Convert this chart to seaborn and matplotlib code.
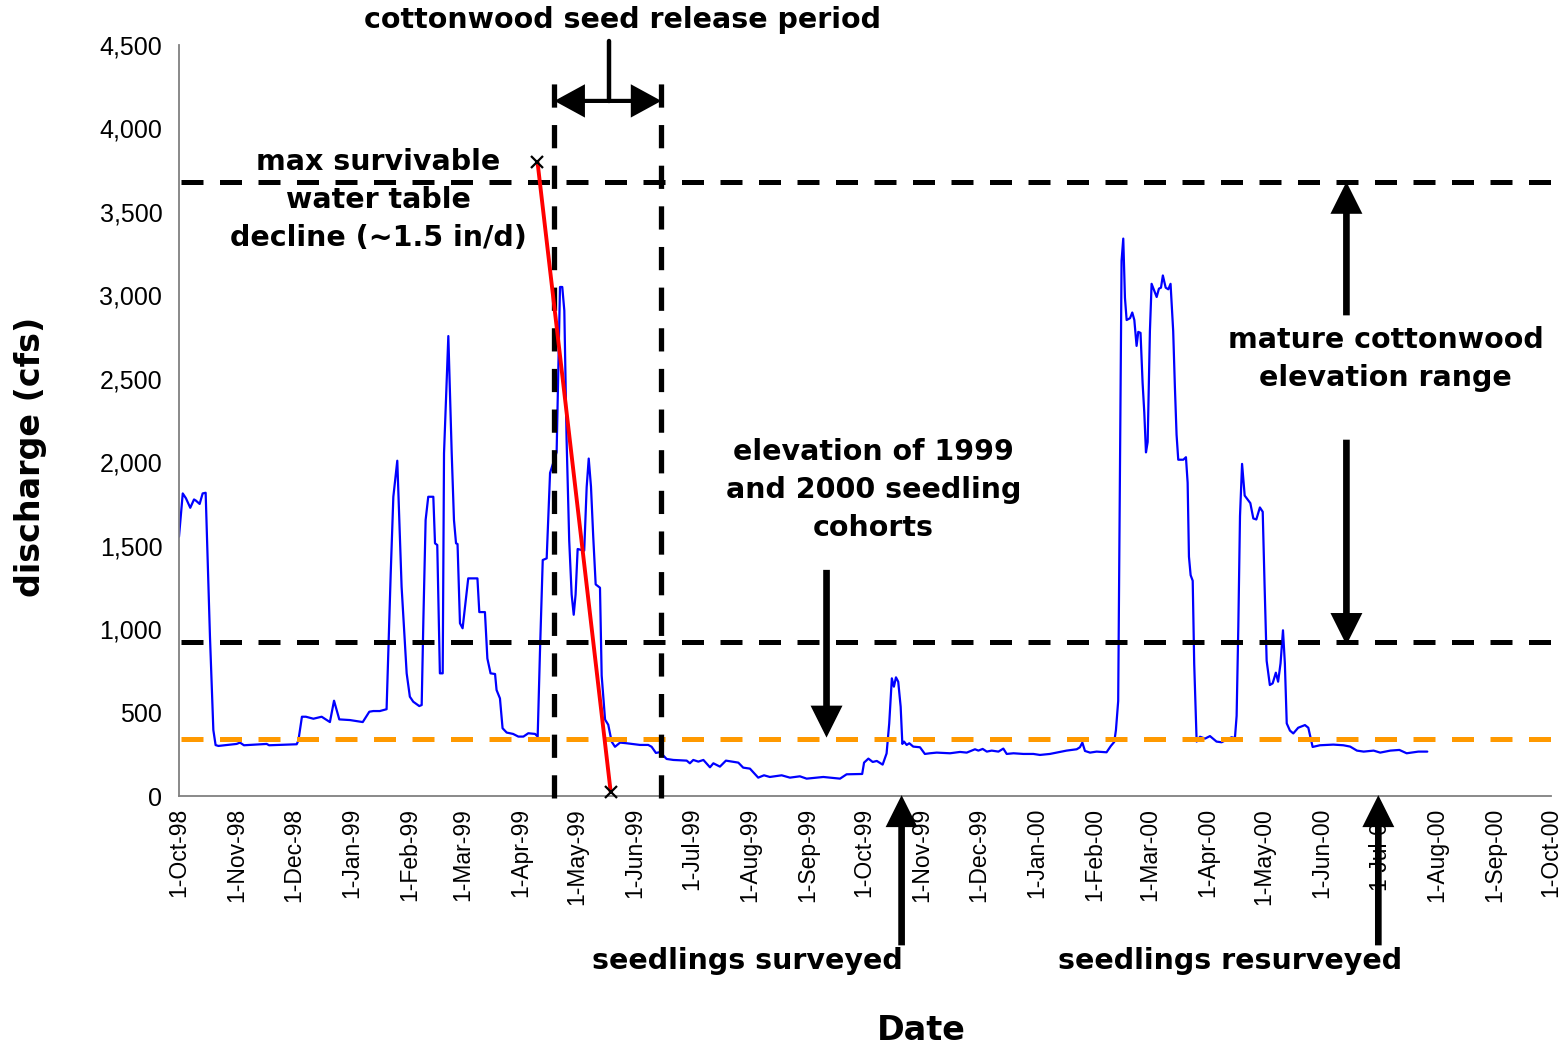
import pandas as pd
import matplotlib
matplotlib.use("Agg")
import matplotlib.pyplot as plt
import matplotlib.dates as mdates
import matplotlib.ticker as mticker
import seaborn as sns

start = pd.Timestamp("1998-10-01")

# daily discharge (cfs); days counted from 1-Oct-98
fall98_day = [0, 2, 3.7, 6, 8, 9, 11, 12.6, 14.2, 15.3, 16.5, 18.3, 19.5, 21, 30.7, 32.5, 34.6,
              46.7, 48, 62.7, 63.6, 65.5, 67.6, 71.6, 76, 80.4, 82.6, 85.4, 91.1, 97.9, 101.4,
              103.5, 107, 110.6]
fall98_cfs = [1554, 1813, 1784, 1727, 1777, 1770, 1750, 1813, 1817, 1394, 954, 395, 305, 300, 312,
              320, 304, 312, 304, 310, 332, 475, 475, 463, 475, 443, 571, 459, 455, 443, 505, 509,
              509, 520]

spring99_day = [111.5, 112.8, 114.2, 116.3, 118.6, 121.3, 123, 124.8, 128, 129.3, 130.2, 131.4,
                132.8, 135.5, 136.4, 137.6, 139, 140.5, 141.2, 143.5, 145.3, 146.5, 147.6, 148.4,
                149.7, 151.1, 154.1, 159, 160, 163, 164.3, 166, 168.4, 169.2, 171, 172.4, 174.6,
                178, 180.8, 183.5, 186.1, 189.7, 191.1]
spring99_cfs = [855, 1334, 1793, 2009, 1254, 735, 595, 565, 539, 545, 1054, 1654, 1793, 1793, 1514,
                1504, 735, 735, 2053, 2756, 2053, 1654, 1514, 1510, 1035, 1005, 1304, 1304, 1102,
                1102, 824, 735, 731, 635, 585, 406, 380, 372, 356, 356, 376, 372, 356]

summer99_day = [192.3, 193.8, 195.9, 197.7, 199.5, 201.2, 202.1, 203, 204.2, 205.3, 206.5, 207.9,
                209.2, 210.3, 211.3, 212.4, 215.9, 217.2, 218.3, 219.5, 220.7, 222, 224.3, 225.2,
                227, 228.7, 230.5, 232.3, 235, 238.5, 245.6, 250, 251.8, 254.1, 256.3, 259.8,
                263.4, 270.5, 272.2, 274, 276.7, 279.4, 282.9, 284.7, 288.2, 291.4, 298, 300.6,
                304.2, 308.6, 311.7, 314.8, 321.1, 325.5, 330.8, 334.4, 343.3, 352.2, 355.7, 364]
summer99_cfs = [855, 1414, 1424, 1936, 2000, 2060, 2544, 3050, 3050, 2908, 2139, 1531, 1207, 1086,
                1207, 1480, 1470, 1850, 2022, 1854, 1554, 1268, 1248, 721, 458, 427, 326, 295, 320,
                316, 306, 306, 295, 258, 263, 222, 216, 212, 196, 216, 206, 216, 172, 196, 176, 212,
                200, 170, 164, 110, 124, 114, 124, 110, 118, 104, 114, 104, 130, 132]

winter00_day = [365, 367.3, 369.6, 371.8, 374.9, 377, 378.4, 379.8, 380.9, 382, 383.2, 384.5,
                385.4, 386.3, 387.7, 389.1, 391.2, 394.8, 397.4, 400.1, 403.7, 410.8, 416.1,
                419.7, 424.1, 425.9, 428.2, 430.4, 433, 436.6, 439.2, 441, 444.6, 449.9, 455.2,
                458.7, 464, 467.6, 472.9, 478.3, 480, 481.3, 482.7, 485.4, 488.9, 494.2, 496.5,
                498.3, 499.2, 500.4]
winter00_cfs = [200, 224, 204, 210, 188, 255, 434, 705, 655, 711, 685, 535, 312, 326, 306, 316,
                296, 292, 252, 256, 260, 256, 264, 260, 280, 272, 282, 266, 272, 266, 284, 252, 256,
                252, 252, 246, 252, 260, 272, 280, 292, 320, 270, 260, 266, 262, 300, 324, 395, 569]

spring00_day = [501.3, 502.2, 503.1, 504, 504.9, 506.7, 507.9, 509, 510.2, 511.1, 512.3, 513.4,
                514.3, 515.2, 516.1, 517.3, 518.2, 519.4, 520.9, 522.1, 523.2, 524.2, 525.7,
                527.1, 528.3, 529.7, 530.6, 531.5, 532.4, 535.1, 536.5, 537.4, 538.1, 539, 540.1,
                540.9, 542.2, 544, 546.7, 549.3, 552.8, 555.5, 558.2, 560.8, 562.6, 563.5, 564.4,
                565.3, 566.4, 567.8, 570.8, 572.4, 574, 575.9, 577.4, 578.4, 579.5, 581.2, 582.7,
                584.4, 585.6, 586.9, 588.2, 589.2, 590.2, 591.9, 593.7, 596.3, 599.9, 601.7, 604,
                607.9, 615, 620.4, 624, 627.6, 631.2, 636.5, 640, 645.4, 650.2, 654.1, 660.3, 665.1]
spring00_cfs = [1899, 3207, 3340, 2985, 2852, 2863, 2897, 2852, 2697, 2781, 2775, 2476, 2298, 2059,
                2121, 2786, 3069, 3034, 2990, 3040, 3046, 3119, 3046, 3036, 3069, 2786, 2454, 2165,
                2015, 2015, 2030, 1877, 1434, 1323, 1290, 791, 326, 355, 344, 359, 326, 322, 337,
                352, 347, 480, 1013, 1678, 1990, 1800, 1755, 1663, 1657, 1729, 1703, 1260, 810, 665,
                675, 739, 685, 795, 993, 795, 435, 392, 375, 409, 425, 409, 294, 304, 308, 304, 296,
                272, 266, 272, 260, 272, 276, 256, 266, 266]

# reference levels
mature_top = 3680
mature_bottom = 920
seedling_level = 340
seed_release = ["1999-04-19", "1999-06-15"]
decline_dates = ["1999-04-10", "1999-05-19"]
decline_cfs = [3800, 25]

month_ticks = pd.date_range("1998-10-01", "2000-10-01", freq="MS")
y_ticks = list(range(0, 4501, 500))

days = fall98_day + spring99_day + summer99_day + winter00_day + spring00_day
cfs = fall98_cfs + spring99_cfs + summer99_cfs + winter00_cfs + spring00_cfs
df = pd.DataFrame({"date": start + pd.to_timedelta(days, unit="D"), "cfs": cfs})


def d(s):
    return mdates.date2num(pd.Timestamp(s))


sns.set_style("white")
plt.rcParams["font.family"] = ["DejaVu Sans"]
plt.rcParams["text.color"] = "black"
plt.rcParams["xtick.color"] = "black"
plt.rcParams["ytick.color"] = "black"

fig = plt.figure(figsize=(15.64, 10.53), dpi=100)
ax = fig.add_axes([179 / 1564, 1 - 796 / 1053, 1372 / 1564, 751 / 1053])

sns.lineplot(data=df, x="date", y="cfs", color="#0000ff", lw=1.6, ax=ax)

dash = (0, (4.4, 3.3))
for lvl, col in [(mature_top, "black"), (mature_bottom, "black"), (seedling_level, "#ff9900")]:
    ax.plot([d("1998-10-02"), d("2000-10-08")], [lvl, lvl], ls=dash, lw=3.6,
            color=col, clip_on=False, zorder=3)
for s in seed_release:
    ax.plot([d(s), d(s)], [-10, 4280], ls=dash, lw=3.8, color="black",
            clip_on=False, zorder=3)

ax.plot([d(x) for x in decline_dates], decline_cfs, color="red", lw=2.8, zorder=4)
ax.plot([d(x) for x in decline_dates], decline_cfs, ls="none", marker="x",
        color="black", ms=9, mew=1.6, zorder=5, clip_on=False)

ax.set_xlim(d("1998-10-01"), d("2000-10-01"))
ax.set_ylim(0, 4500)
ax.set_xticks([d(t) for t in month_ticks])
ax.set_xticklabels([t.strftime("%d-%b-%y").lstrip("0") for t in month_ticks],
                   rotation=90, fontsize=16.5, family="Liberation Sans")
ax.set_yticks(y_ticks)
ax.yaxis.set_major_formatter(mticker.StrMethodFormatter("{x:,.0f}"))
for lab in ax.get_yticklabels():
    lab.set_family("Liberation Sans")
    lab.set_fontsize(18)
ax.set_xlabel("")
ax.set_ylabel("")

for side in ["top", "right"]:
    ax.spines[side].set_visible(False)
for side in ["left", "bottom"]:
    ax.spines[side].set_color("#808080")
    ax.spines[side].set_linewidth(1.3)
ax.tick_params(axis="x", direction="inout", length=11, width=1.1, color="#555555",
               labelcolor="black", pad=3)
ax.tick_params(axis="y", direction="out", length=6, width=1.1, color="#555555",
               labelcolor="black", pad=6)


def arrow(x0, y0, x1, y1, w=4.8, hw=23, hl=23):
    ax.annotate("", xy=(x1, y1), xytext=(x0, y0), annotation_clip=False,
                arrowprops=dict(facecolor="black", edgecolor="black", lw=0,
                                width=w, headwidth=hw, headlength=hl, shrink=0))


mid = d("1999-05-18")
ax.plot([mid, mid], [4525, 4165], color="black", lw=3.2, clip_on=False, zorder=5)
arrow(mid, 4165, d(seed_release[0]), 4165, w=3, hw=24, hl=22)
arrow(mid, 4165, d(seed_release[1]), 4165, w=3, hw=24, hl=22)

arrow(d("2000-06-14"), 2880, d("2000-06-14"), mature_top)
arrow(d("2000-06-14"), 2135, d("2000-06-14"), mature_bottom - 15)
arrow(d("1999-09-11"), 1355, d("1999-09-11"), seedling_level + 10)
arrow(d("1999-10-21"), -895, d("1999-10-21"), 5)
arrow(d("2000-07-01"), -895, d("2000-07-01"), 5)

tkw = dict(ha="center", va="center", fontsize=20.5, fontweight="bold", linespacing=1.45,
           color="black")
ax.text(d("1999-01-15"), 3571, "max survivable\nwater table\ndecline (~1.5 in/d)", **tkw)
ax.text(d("2000-07-05"), 2618, "mature cottonwood\nelevation range", **tkw)
ax.text(d("1999-10-06"), 1833, "elevation of 1999\nand 2000 seedling\ncohorts", **tkw)
ax.text(d("1999-07-31"), -990, "seedlings surveyed", **tkw)
ax.text(d("2000-04-13"), -990, "seedlings resurveyed", **tkw)

fig.text(623 / 1564, 1 - 20 / 1053, "cottonwood seed release period", ha="center",
         va="center", fontsize=20.5, fontweight="bold", color="black")
fig.text(921 / 1564, 1 - 1030 / 1053, "Date", ha="center", va="center",
         fontsize=24, fontweight="bold", color="black")
fig.text(31 / 1564, 1 - 457 / 1053, "discharge (cfs)", ha="center", va="center",
         rotation=90, fontsize=24, fontweight="bold", color="black")

fig.savefig("out.png", dpi=100)
